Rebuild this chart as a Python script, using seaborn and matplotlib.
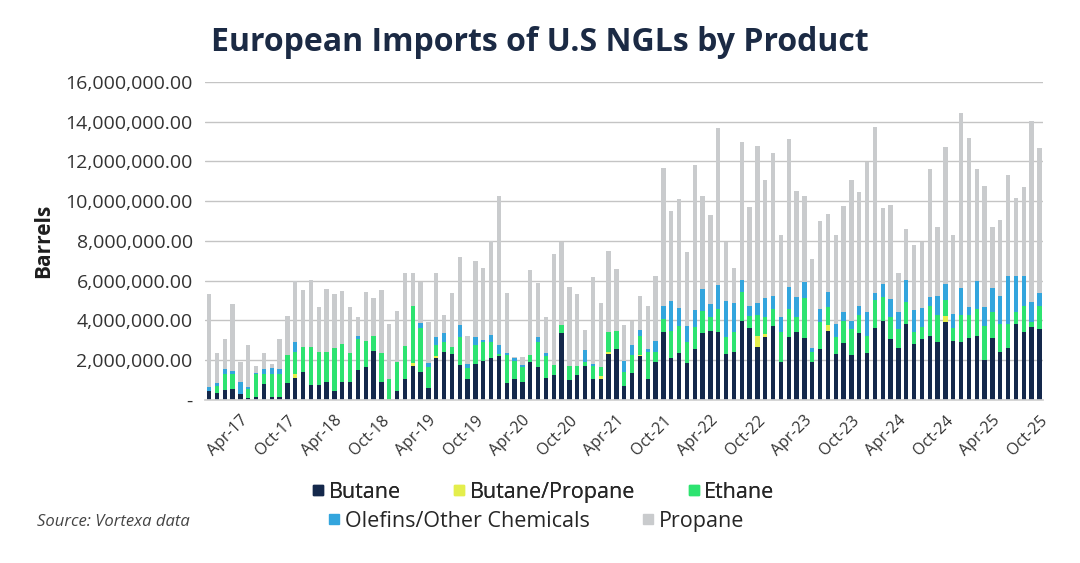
import matplotlib
matplotlib.use("Agg")
import matplotlib.pyplot as plt
import matplotlib.ticker as mticker
from matplotlib.lines import Line2D
import pandas as pd
import seaborn as sns

# monthly imports, millions of barrels, Dec-16 .. Oct-25
months = pd.date_range("2016-12-01", "2025-10-01", freq="MS").strftime("%b-%y").tolist()

butane = [0.45, 0.34, 0.50, 0.54, 0.29, 0.12, 0.15, 0.79, 0.15, 0.15,
          0.84, 1.13, 1.43, 0.74, 0.74, 0.91, 0.44, 0.91, 0.91, 1.50,
          1.68, 2.47, 0.91, 0.00, 0.45, 1.08, 1.72, 1.41, 0.59, 2.09,
          2.39, 2.31, 1.75, 1.08, 1.80, 1.97, 2.09, 2.22, 0.84, 1.08,
          0.91, 1.92, 1.68, 1.13, 1.25, 3.35, 1.01, 1.26, 1.72, 1.08,
          1.08, 2.31, 2.56, 0.71, 1.38, 2.19, 1.08, 1.92, 3.43, 2.09,
          2.36, 1.85, 2.59, 3.35, 3.45, 3.43, 2.31, 2.42, 3.99, 3.60,
          2.69, 3.15, 3.70, 1.92, 3.18, 3.40, 3.10, 1.92, 2.59, 3.48,
          2.31, 2.86, 2.26, 3.37, 2.36, 3.60, 3.99, 3.06, 2.64, 3.82,
          2.81, 3.06, 3.23, 2.90, 3.94, 2.98, 2.90, 3.10, 3.23, 2.02,
          3.10, 2.42, 2.64, 3.82, 3.43, 3.65, 3.57]

butane_propane = [0, 0, 0, 0, 0, 0, 0, 0, 0, 0,
                  0, 0.20, 0, 0, 0, 0, 0, 0, 0, 0,
                  0, 0, 0, 0, 0, 0, 0.13, 0, 0, 0.13,
                  0, 0, 0, 0, 0, 0, 0, 0, 0, 0,
                  0, 0, 0, 0, 0, 0, 0, 0, 0, 0,
                  0.13, 0.11, 0, 0, 0, 0.07, 0, 0, 0, 0,
                  0, 0, 0, 0, 0, 0, 0, 0, 0, 0,
                  0.54, 0.17, 0, 0, 0, 0, 0, 0, 0, 0.29,
                  0, 0, 0, 0, 0, 0, 0, 0, 0, 0,
                  0, 0, 0, 0, 0.27, 0, 0, 0, 0, 0,
                  0, 0, 0, 0, 0, 0, 0]

ethane = [0.00, 0.37, 0.80, 0.76, 0.00, 0.42, 1.15, 0.54, 1.18, 1.18,
          1.42, 1.09, 1.26, 1.95, 1.70, 1.53, 2.20, 1.90, 1.45, 1.56,
          1.30, 0.73, 1.45, 1.08, 1.47, 1.65, 2.86, 2.21, 1.09, 0.54,
          0.51, 0.38, 1.40, 0.55, 0.96, 0.93, 0.81, 0.09, 1.42, 0.89,
          0.77, 0.34, 1.22, 1.09, 0.50, 0.42, 0.71, 0.46, 0.20, 0.64,
          0.47, 1.01, 0.92, 0.70, 0.88, 0.97, 1.31, 0.50, 0.64, 1.39,
          1.34, 1.05, 1.06, 1.15, 0.71, 1.15, 0.84, 1.01, 1.46, 0.61,
          1.05, 0.84, 0.88, 1.51, 1.40, 0.76, 2.02, 0.47, 1.32, 0.89,
          0.84, 1.13, 1.31, 0.91, 0.87, 1.45, 1.18, 1.10, 0.93, 1.10,
          0.62, 0.59, 1.52, 1.38, 0.84, 0.62, 1.38, 1.18, 1.35, 1.68,
          1.31, 1.40, 1.18, 0.59, 1.32, 0.26, 1.18]

olefins = [0.22, 0.13, 0.28, 0.16, 0.62, 0.12, 0.08, 0.25, 0.30, 0.22,
           0.00, 0.48, 0.00, 0.00, 0.00, 0.00, 0.00, 0.00, 0.00, 0.14,
           0.00, 0.00, 0.00, 0.00, 0.00, 0.00, 0.00, 0.25, 0.17, 0.39,
           0.47, 0.00, 0.62, 0.17, 0.39, 0.10, 0.37, 0.45, 0.10, 0.12,
           0.07, 0.00, 0.25, 0.14, 0.00, 0.00, 0.00, 0.00, 0.61, 0.08,
           0.00, 0.00, 0.00, 0.56, 0.50, 0.31, 0.20, 0.56, 0.68, 1.52,
           0.93, 0.80, 0.90, 1.06, 0.67, 1.21, 1.85, 1.45, 0.61, 0.50,
           0.60, 0.96, 0.64, 0.73, 1.09, 1.01, 0.84, 0.25, 0.67, 0.79,
           0.67, 0.42, 0.42, 0.47, 1.18, 0.34, 0.67, 0.92, 0.84, 1.14,
           1.12, 0.96, 0.42, 0.97, 0.79, 0.73, 1.34, 0.38, 1.43, 0.96,
           1.21, 1.43, 2.41, 1.82, 1.48, 1.01, 0.64]

propane = [4.67, 1.50, 1.48, 3.37, 1.01, 2.10, 0.34, 0.78, 0.20, 1.51,
           1.95, 3.08, 2.85, 3.37, 2.26, 3.15, 2.70, 2.66, 2.34, 0.96,
           2.44, 1.92, 3.18, 2.74, 2.54, 3.65, 1.67, 2.06, 2.09, 3.23,
           0.91, 2.68, 3.42, 1.43, 3.82, 3.63, 4.71, 7.51, 3.03, 0.08,
           0.39, 4.26, 2.74, 1.80, 5.57, 4.18, 3.95, 3.62, 1.01, 4.38,
           3.20, 4.06, 3.09, 1.82, 1.23, 1.71, 2.16, 3.28, 6.90, 4.50,
           5.47, 3.74, 7.27, 4.71, 4.50, 7.88, 2.95, 1.75, 6.94, 5.00,
           7.91, 5.94, 7.22, 4.16, 7.46, 5.35, 4.29, 4.46, 4.43, 3.93,
           4.46, 5.34, 7.07, 5.72, 7.54, 8.36, 3.82, 4.72, 1.99, 2.53,
           3.23, 3.34, 6.43, 3.45, 6.90, 3.95, 8.81, 8.51, 5.59, 6.10,
           3.08, 3.79, 5.08, 3.94, 4.49, 9.09, 7.30]

products = ["Butane", "Butane/Propane", "Ethane", "Olefins/Other Chemicals", "Propane"]
colors = ["#14284b", "#e4ee4c", "#2de370", "#33a5dd", "#c9cbcd"]
tick_labels = ["Apr-17", "Oct-17", "Apr-18", "Oct-18", "Apr-19", "Oct-19",
               "Apr-20", "Oct-20", "Apr-21", "Oct-21", "Apr-22", "Oct-22",
               "Apr-23", "Oct-23", "Apr-24", "Oct-24", "Apr-25", "Oct-25"]

frames = []
for name, vals in zip(products, [butane, butane_propane, ethane, olefins, propane]):
    frames.append(pd.DataFrame({"idx": range(len(months)), "product": name,
                                "barrels": [v * 1e6 for v in vals]}))
df = pd.concat(frames, ignore_index=True)

sns.set_theme(style="white")
plt.rcParams["font.family"] = ["Open Sans", "DejaVu Sans"]

fig = plt.figure(figsize=(10.8, 5.63), dpi=100)
ax = fig.add_axes([0.190, 0.2895, 0.776, 0.565])

# seaborn stacks the last hue level at the bottom, so reverse the order
sns.histplot(data=df, x="idx", weights="barrels", hue="product",
             hue_order=products[::-1], palette=colors[::-1],
             multiple="stack", discrete=True, shrink=0.56,
             linewidth=0, alpha=1, legend=False, ax=ax)

ax.set_xlim(-0.5, len(months) - 0.5)
ax.set_ylim(0, 16e6)
ax.yaxis.set_major_locator(mticker.MultipleLocator(2e6))
ax.yaxis.set_major_formatter(mticker.FuncFormatter(
    lambda v, p: "-" if v == 0 else f"{v:,.2f}"))
ax.grid(axis="y", color="#c4c4c4", linewidth=1)
ax.set_axisbelow(True)
for s in ["top", "right", "left"]:
    ax.spines[s].set_visible(False)
ax.spines["bottom"].set_color("#d0d0d0")

ax.set_xticks([months.index(t) for t in tick_labels])
ax.set_xticklabels(tick_labels, rotation=45, ha="right", rotation_mode="anchor")
ax.tick_params(axis="x", labelsize=11.5, colors="#333333", length=3, pad=6)
ax.tick_params(axis="x", color="#d0d0d0")
ax.tick_params(axis="y", labelsize=14, colors="#333333", length=0, pad=9)
ax.set_xlabel("")
ax.set_ylabel("Barrels", fontsize=15, fontweight="bold", color="#1e1e1e", labelpad=8)

fig.text(0.50, 0.925, "European Imports of U.S NGLs by Product", ha="center", va="center",
         fontsize=23, fontweight="bold", color="#1b2a44")
fig.text(0.034, 0.073, "Source: Vortexa data", ha="left", va="center",
         fontsize=12, style="italic", color="#444444")

handles = [Line2D([], [], marker="s", linestyle="", color=c, markersize=7) for c in colors]
leg1 = fig.legend(handles[:3], products[:3], loc="center", bbox_to_anchor=(0.501, 0.126),
                  ncol=3, frameon=False, fontsize=15.5, handletextpad=0.0,
                  columnspacing=2.2, handlelength=1.0)
fig.add_artist(leg1)
fig.legend(handles[3:], products[3:], loc="center", bbox_to_anchor=(0.494, 0.074),
           ncol=2, frameon=False, fontsize=15.5, handletextpad=0.0,
           columnspacing=2.2, handlelength=1.0)

fig.savefig("out.png", dpi=100)
